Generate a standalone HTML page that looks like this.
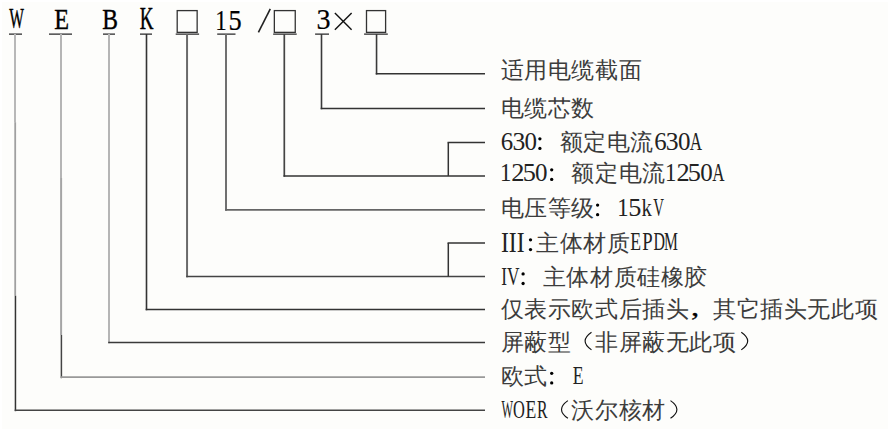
<!DOCTYPE html>
<html><head><meta charset="utf-8"><style>
html,body{margin:0;padding:0;background:#ffffff;width:890px;height:431px;overflow:hidden}
svg{position:absolute;left:0;top:0;font-family:"Liberation Serif",serif}
</style></head><body>
<div style="position:absolute;left:2px;top:2px;right:2px;bottom:2px;background:#fdfdfb"></div>
<svg width="890" height="431" viewBox="0 0 890 431">
<g fill="#000">
<text transform="translate(9.28,28.05) scale(0.520,1)" font-size="29.85" fill="#000" stroke="#000" stroke-width="0.35" vector-effect="non-scaling-stroke">W</text>
<text transform="translate(54.20,29.00) scale(0.802,1)" font-size="30.23" fill="#000" stroke="#000" stroke-width="0.35" vector-effect="non-scaling-stroke">E</text>
<text transform="translate(102.32,28.61) scale(0.780,1)" font-size="30.24" fill="#000" stroke="#000" stroke-width="0.35" vector-effect="non-scaling-stroke">B</text>
<text transform="translate(139.65,28.50) scale(0.623,1)" font-size="30.53" fill="#000" stroke="#000" stroke-width="0.35" vector-effect="non-scaling-stroke">K</text>
<text transform="translate(215.17,29.90) scale(0.771,1)" font-size="29.85" fill="#000" stroke="#000" stroke-width="0.2" vector-effect="non-scaling-stroke">1</text>
<text transform="translate(228.47,29.60) scale(0.888,1)" font-size="29.62" fill="#000" stroke="#000" stroke-width="0.2" vector-effect="non-scaling-stroke">5</text>
<text transform="translate(316.55,29.39) scale(0.921,1)" font-size="30.51" fill="#000" stroke="#000" stroke-width="0.2" vector-effect="non-scaling-stroke">3</text>
<text x="500.55" y="77.50" font-size="23.1" fill="#3c3c3c">适</text>
<text x="524.15" y="77.50" font-size="23.1" fill="#3c3c3c">用</text>
<text x="547.75" y="77.50" font-size="23.1" fill="#3c3c3c">电</text>
<text x="571.35" y="77.50" font-size="23.1" fill="#3c3c3c">缆</text>
<text x="594.95" y="77.50" font-size="23.1" fill="#3c3c3c">截</text>
<text x="618.55" y="77.50" font-size="23.1" fill="#3c3c3c">面</text>
<text x="500.55" y="116.00" font-size="23.1" fill="#3c3c3c">电</text>
<text x="524.15" y="116.00" font-size="23.1" fill="#3c3c3c">缆</text>
<text x="547.75" y="116.00" font-size="23.1" fill="#3c3c3c">芯</text>
<text x="571.35" y="116.00" font-size="23.1" fill="#3c3c3c">数</text>
<text transform="translate(500.83,149.60) scale(0.980,1)" font-size="25.34" fill="#222">6</text>
<text transform="translate(512.47,149.60) scale(1.013,1)" font-size="25.34" fill="#222">3</text>
<text transform="translate(524.55,149.60) scale(0.986,1)" font-size="25.34" fill="#222">0</text>
<circle cx="539.90" cy="138.80" r="1.65"/>
<circle cx="539.90" cy="148.40" r="1.65"/>
<text x="559.55" y="149.90" font-size="23.1" fill="#3c3c3c">额</text>
<text x="583.15" y="149.90" font-size="23.1" fill="#3c3c3c">定</text>
<text x="606.75" y="149.90" font-size="23.1" fill="#3c3c3c">电</text>
<text x="630.35" y="149.90" font-size="23.1" fill="#3c3c3c">流</text>
<text transform="translate(654.23,149.60) scale(0.980,1)" font-size="25.34" fill="#222">6</text>
<text transform="translate(665.87,149.60) scale(1.013,1)" font-size="25.34" fill="#222">3</text>
<text transform="translate(677.95,149.60) scale(0.986,1)" font-size="25.34" fill="#222">0</text>
<text transform="translate(689.83,149.60) scale(0.672,1)" font-size="25.34" fill="#222">A</text>
<text transform="translate(499.90,180.60) scale(0.897,1)" font-size="25.34" fill="#222">1</text>
<text transform="translate(511.24,180.60) scale(1.043,1)" font-size="25.34" fill="#222">2</text>
<text transform="translate(522.67,180.60) scale(1.038,1)" font-size="25.34" fill="#222">5</text>
<text transform="translate(535.05,180.60) scale(0.986,1)" font-size="25.34" fill="#222">0</text>
<circle cx="551.70" cy="169.80" r="1.65"/>
<circle cx="551.70" cy="179.40" r="1.65"/>
<text x="571.35" y="180.90" font-size="23.1" fill="#3c3c3c">额</text>
<text x="594.95" y="180.90" font-size="23.1" fill="#3c3c3c">定</text>
<text x="618.55" y="180.90" font-size="23.1" fill="#3c3c3c">电</text>
<text x="642.15" y="180.90" font-size="23.1" fill="#3c3c3c">流</text>
<text transform="translate(665.10,180.60) scale(0.897,1)" font-size="25.34" fill="#222">1</text>
<text transform="translate(676.44,180.60) scale(1.043,1)" font-size="25.34" fill="#222">2</text>
<text transform="translate(687.87,180.60) scale(1.038,1)" font-size="25.34" fill="#222">5</text>
<text transform="translate(700.25,180.60) scale(0.986,1)" font-size="25.34" fill="#222">0</text>
<text transform="translate(712.13,180.60) scale(0.672,1)" font-size="25.34" fill="#222">A</text>
<text x="500.55" y="216.20" font-size="23.1" fill="#3c3c3c">电</text>
<text x="524.15" y="216.20" font-size="23.1" fill="#3c3c3c">压</text>
<text x="547.75" y="216.20" font-size="23.1" fill="#3c3c3c">等</text>
<text x="571.35" y="216.20" font-size="23.1" fill="#3c3c3c">级</text>
<circle cx="597.60" cy="205.10" r="1.65"/>
<circle cx="597.60" cy="214.70" r="1.65"/>
<text transform="translate(617.20,215.90) scale(0.897,1)" font-size="25.34" fill="#222">1</text>
<text transform="translate(628.17,215.90) scale(1.038,1)" font-size="25.34" fill="#222">5</text>
<text transform="translate(641.40,215.90) scale(0.820,1)" font-size="25.34" fill="#222">k</text>
<text transform="translate(653.24,215.90) scale(0.586,1)" font-size="25.34" fill="#222">V</text>
<text transform="translate(500.95,251.70) scale(0.827,1)" font-size="28.55" fill="#222" stroke="#222" stroke-width="0" vector-effect="non-scaling-stroke">III</text>
<circle cx="530.50" cy="239.80" r="1.65"/>
<circle cx="530.50" cy="249.60" r="1.65"/>
<text x="535.95" y="250.90" font-size="23.1" fill="#3c3c3c">主</text>
<text x="559.55" y="250.90" font-size="23.1" fill="#3c3c3c">体</text>
<text x="583.15" y="250.90" font-size="23.1" fill="#3c3c3c">材</text>
<text x="606.75" y="250.90" font-size="23.1" fill="#3c3c3c">质</text>
<text transform="translate(630.29,249.80) scale(0.697,1)" font-size="25.34" fill="#222">E</text>
<text transform="translate(642.21,249.80) scale(0.737,1)" font-size="25.34" fill="#222">P</text>
<text transform="translate(653.44,249.80) scale(0.628,1)" font-size="25.34" fill="#222">D</text>
<text transform="translate(663.95,249.80) scale(0.617,1)" font-size="25.34" fill="#222">M</text>
<text transform="translate(501.18,285.03) scale(0.697,1)" font-size="24.78" fill="#222" stroke="#222" stroke-width="0" vector-effect="non-scaling-stroke">IV</text>
<circle cx="523.10" cy="273.90" r="1.65"/>
<circle cx="523.10" cy="283.50" r="1.65"/>
<text x="542.75" y="285.00" font-size="23.1" fill="#3c3c3c">主</text>
<text x="566.35" y="285.00" font-size="23.1" fill="#3c3c3c">体</text>
<text x="589.95" y="285.00" font-size="23.1" fill="#3c3c3c">材</text>
<text x="613.55" y="285.00" font-size="23.1" fill="#3c3c3c">质</text>
<text x="637.15" y="285.00" font-size="23.1" fill="#3c3c3c">硅</text>
<text x="660.75" y="285.00" font-size="23.1" fill="#3c3c3c">橡</text>
<text x="684.35" y="285.00" font-size="23.1" fill="#3c3c3c">胶</text>
<text x="500.55" y="317.00" font-size="23.1" fill="#3c3c3c">仅</text>
<text x="524.15" y="317.00" font-size="23.1" fill="#3c3c3c">表</text>
<text x="547.75" y="317.00" font-size="23.1" fill="#3c3c3c">示</text>
<text x="571.35" y="317.00" font-size="23.1" fill="#3c3c3c">欧</text>
<text x="594.95" y="317.00" font-size="23.1" fill="#3c3c3c">式</text>
<text x="618.55" y="317.00" font-size="23.1" fill="#3c3c3c">后</text>
<text x="642.15" y="317.00" font-size="23.1" fill="#3c3c3c">插</text>
<text x="665.75" y="317.00" font-size="23.1" fill="#3c3c3c">头</text>
<text transform="translate(690.95,315.61) scale(1.300,1)" font-size="25.29" fill="#000" stroke="#000" stroke-width="0.35" vector-effect="non-scaling-stroke">,</text>
<text x="712.95" y="317.00" font-size="23.1" fill="#3c3c3c">其</text>
<text x="736.55" y="317.00" font-size="23.1" fill="#3c3c3c">它</text>
<text x="760.15" y="317.00" font-size="23.1" fill="#3c3c3c">插</text>
<text x="783.75" y="317.00" font-size="23.1" fill="#3c3c3c">头</text>
<text x="807.35" y="317.00" font-size="23.1" fill="#3c3c3c">无</text>
<text x="830.95" y="317.00" font-size="23.1" fill="#3c3c3c">此</text>
<text x="854.55" y="317.00" font-size="23.1" fill="#3c3c3c">项</text>
<text x="500.55" y="349.50" font-size="23.1" fill="#3c3c3c">屏</text>
<text x="524.15" y="349.50" font-size="23.1" fill="#3c3c3c">蔽</text>
<text x="547.75" y="349.50" font-size="23.1" fill="#3c3c3c">型</text>
<path d="M591.50,332.20 Q578.70,341.05 591.50,349.90" fill="none" stroke="#111" stroke-width="1.15"/>
<text x="594.95" y="349.50" font-size="23.1" fill="#3c3c3c">非</text>
<text x="618.55" y="349.50" font-size="23.1" fill="#3c3c3c">屏</text>
<text x="642.15" y="349.50" font-size="23.1" fill="#3c3c3c">蔽</text>
<text x="665.75" y="349.50" font-size="23.1" fill="#3c3c3c">无</text>
<text x="689.35" y="349.50" font-size="23.1" fill="#3c3c3c">此</text>
<text x="712.95" y="349.50" font-size="23.1" fill="#3c3c3c">项</text>
<path d="M741.30,332.20 Q754.10,341.05 741.30,349.90" fill="none" stroke="#111" stroke-width="1.15"/>
<text x="500.55" y="384.40" font-size="23.1" fill="#3c3c3c">欧</text>
<text x="524.15" y="384.40" font-size="23.1" fill="#3c3c3c">式</text>
<circle cx="551.70" cy="373.30" r="1.65"/>
<circle cx="551.70" cy="382.90" r="1.65"/>
<text transform="translate(572.79,384.10) scale(0.697,1)" font-size="25.34" fill="#222">E</text>
<text transform="translate(501.44,417.60) scale(0.482,1)" font-size="25.34" fill="#222">W</text>
<text transform="translate(513.08,417.60) scale(0.647,1)" font-size="25.34" fill="#222">O</text>
<text transform="translate(525.59,417.60) scale(0.697,1)" font-size="25.34" fill="#222">E</text>
<text transform="translate(537.09,417.60) scale(0.626,1)" font-size="25.34" fill="#222">R</text>
<path d="M567.90,400.60 Q555.10,409.45 567.90,418.30" fill="none" stroke="#111" stroke-width="1.15"/>
<text x="571.35" y="417.90" font-size="23.1" fill="#3c3c3c">沃</text>
<text x="594.95" y="417.90" font-size="23.1" fill="#3c3c3c">尔</text>
<text x="618.55" y="417.90" font-size="23.1" fill="#3c3c3c">核</text>
<text x="642.15" y="417.90" font-size="23.1" fill="#3c3c3c">材</text>
<path d="M670.50,400.60 Q683.30,409.45 670.50,418.30" fill="none" stroke="#111" stroke-width="1.15"/>
</g>
<line x1="9" y1="34.15" x2="22" y2="34.15" stroke="#555" stroke-width="1.6"/>
<line x1="49" y1="34.15" x2="72" y2="34.15" stroke="#555" stroke-width="1.6"/>
<line x1="103" y1="34.15" x2="115" y2="34.15" stroke="#555" stroke-width="1.6"/>
<line x1="140" y1="34.15" x2="152" y2="34.15" stroke="#555" stroke-width="1.6"/>
<line x1="175.7" y1="34.15" x2="199.1" y2="34.15" stroke="#555" stroke-width="1.6"/>
<line x1="217.2" y1="34.15" x2="235.5" y2="34.15" stroke="#555" stroke-width="1.6"/>
<line x1="273.15" y1="34.15" x2="296.7" y2="34.15" stroke="#555" stroke-width="1.6"/>
<line x1="315.1" y1="34.15" x2="329" y2="34.15" stroke="#555" stroke-width="1.6"/>
<line x1="364.1" y1="34.15" x2="387.8" y2="34.15" stroke="#555" stroke-width="1.6"/>
<line x1="15.0" y1="34" x2="15.0" y2="122.2" stroke="#b8b8b8" stroke-width="2.0"/>
<line x1="15.2" y1="122.2" x2="15.2" y2="295.7" stroke="#a0a0a0" stroke-width="1.8"/>
<line x1="15.45" y1="295.7" x2="15.45" y2="411.2" stroke="#333" stroke-width="1.5"/>
<line x1="14.7" y1="410.35" x2="485" y2="410.35" stroke="#444" stroke-width="1.5"/>
<line x1="61.0" y1="34" x2="61.0" y2="178.0" stroke="#b5b5b5" stroke-width="2.0"/>
<line x1="61.1" y1="178.0" x2="61.1" y2="335.0" stroke="#a5a5a5" stroke-width="2.0"/>
<line x1="61.4" y1="335.0" x2="61.4" y2="378.2" stroke="#444" stroke-width="1.5"/>
<line x1="60.6" y1="377.1" x2="485" y2="377.1" stroke="#999" stroke-width="1.9"/>
<line x1="109.0" y1="34" x2="109.0" y2="343.3" stroke="#b5b5b5" stroke-width="2.0"/>
<line x1="108.2" y1="342.6" x2="485" y2="342.6" stroke="#3a3a3a" stroke-width="1.5"/>
<line x1="146.5" y1="34" x2="146.5" y2="310.3" stroke="#333" stroke-width="1.6"/>
<line x1="145.7" y1="309.5" x2="485" y2="309.5" stroke="#333" stroke-width="1.5"/>
<line x1="187.05" y1="34" x2="187.05" y2="277.3" stroke="#6a6a6a" stroke-width="2.0"/>
<line x1="186.25" y1="276.5" x2="485" y2="276.5" stroke="#444" stroke-width="1.5"/>
<line x1="448.3" y1="276.5" x2="448.3" y2="243.0" stroke="#333" stroke-width="1.5"/>
<line x1="447.55" y1="243.0" x2="485" y2="243.0" stroke="#333" stroke-width="1.5"/>
<line x1="226.0" y1="34" x2="226.0" y2="210.75" stroke="#707070" stroke-width="2.0"/>
<line x1="225.2" y1="209.95" x2="485" y2="209.95" stroke="#666" stroke-width="1.7"/>
<line x1="284.3" y1="34" x2="284.3" y2="176.70000000000002" stroke="#444" stroke-width="1.7"/>
<line x1="283.5" y1="175.9" x2="485" y2="175.9" stroke="#333" stroke-width="1.5"/>
<line x1="448.3" y1="175.9" x2="448.3" y2="142.5" stroke="#333" stroke-width="1.5"/>
<line x1="447.55" y1="142.5" x2="485" y2="142.5" stroke="#333" stroke-width="1.5"/>
<line x1="321.5" y1="34" x2="321.5" y2="109.25" stroke="#3a3a3a" stroke-width="1.6"/>
<line x1="320.7" y1="108.45" x2="485" y2="108.45" stroke="#333" stroke-width="1.5"/>
<line x1="376.55" y1="34" x2="376.55" y2="74.5" stroke="#3a3a3a" stroke-width="1.6"/>
<line x1="375.75" y1="73.7" x2="485" y2="73.7" stroke="#333" stroke-width="1.5"/>
<rect x="177.2" y="10.6" width="19.95" height="21.75" fill="none" stroke="#333" stroke-width="1.3"/>
<rect x="274.35" y="10.6" width="20.90" height="21.75" fill="none" stroke="#333" stroke-width="1.3"/>
<rect x="366.5" y="10.6" width="19.10" height="21.75" fill="none" stroke="#333" stroke-width="1.3"/>
<line x1="258.4" y1="32.4" x2="270.3" y2="8.8" stroke="#222" stroke-width="1.6"/>
<line x1="334.9" y1="13.0" x2="351.6" y2="29.7" stroke="#111" stroke-width="1.4"/>
<line x1="334.9" y1="29.7" x2="351.6" y2="13.0" stroke="#111" stroke-width="1.4"/>
</svg>
</body></html>
